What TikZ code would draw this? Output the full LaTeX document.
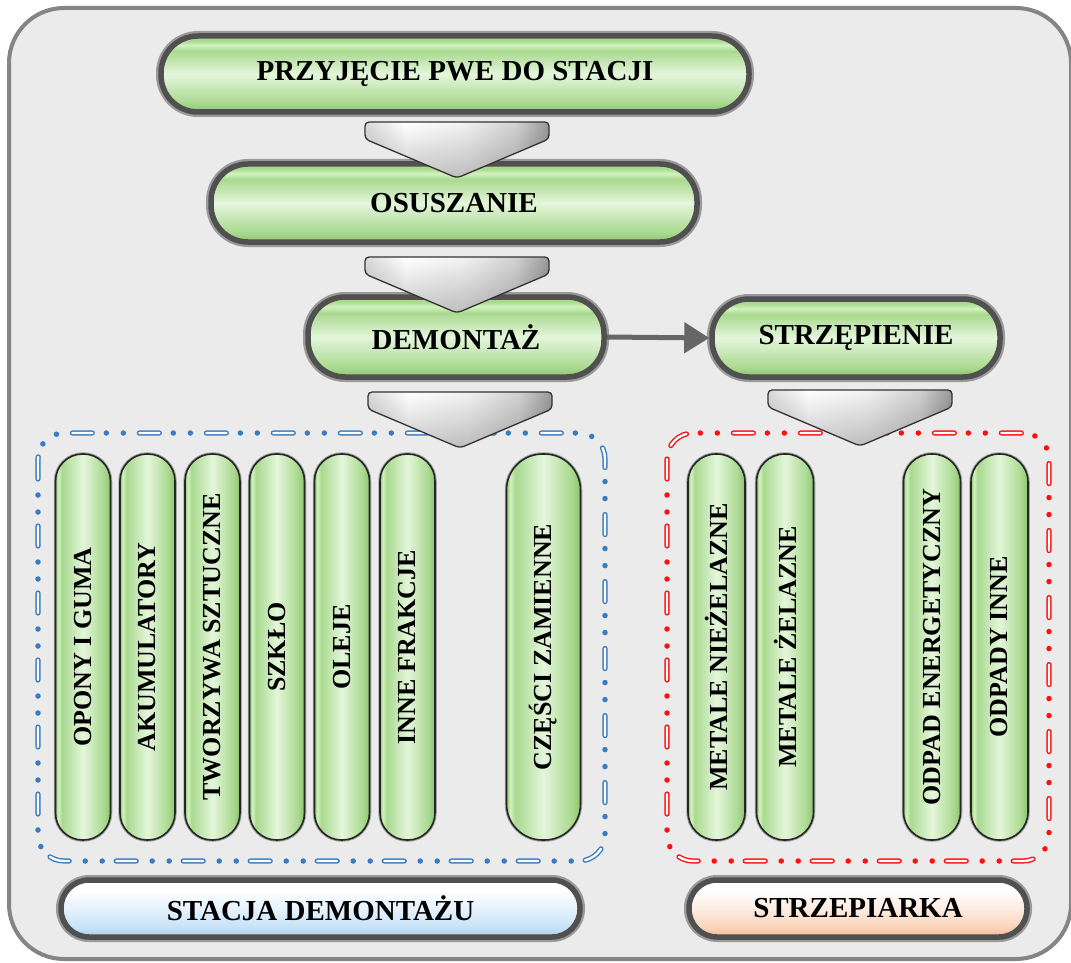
\documentclass[tikz,border=0pt]{standalone}
\usepackage{fontspec}
\setmainfont{Liberation Serif}
\usetikzlibrary{arrows.meta,fadings}

% palette
\definecolor{framefill}{HTML}{EBEBEB}
\definecolor{frameline}{HTML}{858585}
\definecolor{gEdge}{HTML}{8DC472}
\definecolor{gMid}{HTML}{A9D98F}
\definecolor{gLight}{HTML}{E4F6DB}
\definecolor{gHi}{HTML}{D2F2BE}
\definecolor{ring}{HTML}{505050}
\definecolor{halo}{HTML}{9A9A9A}
\definecolor{grpblue}{HTML}{3A7CC2}
\definecolor{grpred}{HTML}{FF1010}
\definecolor{bEdge}{HTML}{A9CDEC}
\definecolor{bMid}{HTML}{C4E1F7}
\definecolor{bLight}{HTML}{E6F2FC}
\definecolor{pEdge}{HTML}{EFB893}
\definecolor{pMid}{HTML}{F9D3B8}
\definecolor{pLight}{HTML}{FDEDE2}
\definecolor{cA}{HTML}{DADADA}
\definecolor{cB}{HTML}{F2F2F2}
\definecolor{cC}{HTML}{D2D2D2}
\definecolor{cD}{HTML}{9A9A9A}
\definecolor{arrowgray}{HTML}{666666}

% shadings (the path fills the 25bp--75bp band)
\pgfdeclareverticalshading{greenv}{100bp}{color(0bp)=(gEdge); color(25bp)=(gEdge); color(31bp)=(gMid); color(50bp)=(gLight); color(65bp)=(gMid); color(69bp)=(gHi); color(72bp)=(gMid); color(75bp)=(gMid); color(100bp)=(gMid)}
\pgfdeclarehorizontalshading{greenh}{100bp}{color(0bp)=(gEdge); color(25bp)=(gEdge); color(27.5bp)=(gHi); color(31bp)=(gMid); color(50bp)=(gLight); color(69bp)=(gMid); color(75bp)=(gEdge); color(100bp)=(gEdge)}
\pgfdeclareverticalshading{bluev}{100bp}{color(0bp)=(bEdge); color(25bp)=(bEdge); color(33bp)=(bMid); color(50bp)=(bLight); color(66bp)=(white); color(75bp)=(white); color(100bp)=(white)}
\pgfdeclareverticalshading{peachv}{100bp}{color(0bp)=(pEdge); color(25bp)=(pEdge); color(33bp)=(pMid); color(50bp)=(pLight); color(66bp)=(white); color(75bp)=(white); color(100bp)=(white)}
\pgfdeclarehorizontalshading{chevh}{100bp}{color(0bp)=(cA); color(25bp)=(cA); color(36bp)=(white); color(52bp)=(cB); color(66bp)=(cC); color(75bp)=(cD); color(100bp)=(cD)}

\newcommand{\hfont}{\bfseries\fontsize{29}{31}\selectfont}
\newcommand{\vfont}{\bfseries\fontsize{26}{28}\selectfont}

\tikzset{
  frame/.style={draw=frameline, line width=4pt, fill=framefill, rounded corners=55pt},
  stepbox/.style={rectangle, rounded corners=37pt, inner sep=0pt,
    draw=ring, line width=5.5pt, shade, shading=greenv,
    preaction={draw=halo, line width=10pt}, font=\hfont},
  labelbox/.style={stepbox, rounded corners=28pt},
  fracbox/.style={rectangle, rounded corners=27pt, inner sep=0pt,
    draw=black!85, line width=1.6pt, shade, shading=greenh,
    preaction={draw=black!35, line width=3.5pt},
    minimum width=55pt, minimum height=386pt, font=\vfont},
  grpdash/.style={draw=#1, line width=1.4pt, double=white, double distance=2.4pt,
    line cap=round, dash pattern=on 20pt off 47pt, rounded corners=26pt},
  grpdot/.style={draw=#1, line width=5.5pt, line cap=round,
    dash pattern=on 0pt off 17pt on 0pt off 50pt, dash phase=31pt, rounded corners=26pt},
  flowarrow/.style={draw=arrowgray, line width=5pt,
    -{Triangle[length=25pt,width=30pt]}},
  chev/.pic={
    \path[shade, shading=chevh, rounded corners=4pt]
      (-92,0) -- (92,0) -- (92,17) -- (0,56) -- (-92,17) -- cycle;
    \fill[black, fill opacity=0.22, path fading=north, rounded corners=4pt]
      (-92,0) -- (92,0) -- (92,17) -- (0,56) -- (-92,17) -- cycle;
    \draw[black!80, line width=1.3pt, rounded corners=4pt]
      (-92,0) -- (92,0) -- (92,17) -- (0,56) -- (-92,17) -- cycle;
  }
}

\begin{document}
\begin{tikzpicture}[x=1pt,y=-1pt]
\useasboundingbox (0,0) rectangle (1071,963);
\fill[white] (0,0) rectangle (1071,963);

% outer panel
\draw[frame] (9,8) rectangle (1071,959);

% group outlines
\coordinate (blueA) at (38,433);
\coordinate (blueB) at (605,861);
\coordinate (redA) at (667,433);
\coordinate (redB) at (1049,861);
\draw[grpdash=grpblue] (blueA) rectangle (blueB);
\draw[grpdot=grpblue] (blueA) rectangle (blueB);
\draw[grpdash=grpred] (redA) rectangle (redB);
\draw[grpdot=grpred] (redA) rectangle (redB);

% main process steps
\node[stepbox, minimum width=588pt, minimum height=76pt] (przyjecie) at (455,74) {PRZYJĘCIE PWE DO STACJI};
\node[stepbox, minimum width=486pt, minimum height=78pt] (osuszanie) at (454,203) {OSUSZANIE};
\node[stepbox, minimum width=296pt, minimum height=80pt] (demontaz) at (456,337) {DEMONTAŻ};
\node[stepbox, minimum width=288pt, minimum height=78pt] (strzepienie) at (856,338) {STRZĘPIENIE};

\draw[flowarrow] (demontaz.east) -- (strzepienie.west);

% fractions from dismantling
\node[fracbox] (opony) at (83,647) {\rotatebox{90}{OPONY I GUMA}};
\node[fracbox] (akumulatory) at (147.5,647) {\rotatebox{90}{AKUMULATORY}};
\node[fracbox] (tworzywa) at (212.5,647) {\rotatebox{90}{TWORZYWA SZTUCZNE}};
\node[fracbox] (szklo) at (277,647) {\rotatebox{90}{SZKŁO}};
\node[fracbox] (oleje) at (342,647) {\rotatebox{90}{OLEJE}};
\node[fracbox] (inne) at (407.5,647) {\rotatebox{90}{INNE FRAKCJE}};
\node[fracbox, minimum width=74pt, rounded corners=36pt] (czesci) at (543.5,647) {\rotatebox{90}{CZĘŚCI ZAMIENNE}};

% fractions from shredding
\node[fracbox, minimum width=57pt, rounded corners=28pt] (niezelazne) at (716.5,647) {\rotatebox{90}{METALE NIEŻELAZNE}};
\node[fracbox, minimum width=57pt, rounded corners=28pt] (zelazne) at (785,647) {\rotatebox{90}{METALE ŻELAZNE}};
\node[fracbox, minimum width=57pt, rounded corners=28pt] (energetyczny) at (932,647) {\rotatebox{90}{ODPAD ENERGETYCZNY}};
\node[fracbox, minimum width=57pt, rounded corners=28pt] (odpadyinne) at (999.5,647) {\rotatebox{90}{ODPADY INNE}};

% flow chevrons
\pic at (457,122) {chev};
\pic at (457,257) {chev};
\pic at (460,392) {chev};
\pic at (860,390) {chev};

% station labels
\node[labelbox, shading=bluev, minimum width=519pt, minimum height=57pt] (stacja) at (320.5,908.5) {STACJA DEMONTAŻU};
\node[labelbox, shading=peachv, minimum width=338pt, minimum height=57pt] (strzepiarka) at (858,908.5) {STRZEPIARKA};
\end{tikzpicture}
\end{document}
